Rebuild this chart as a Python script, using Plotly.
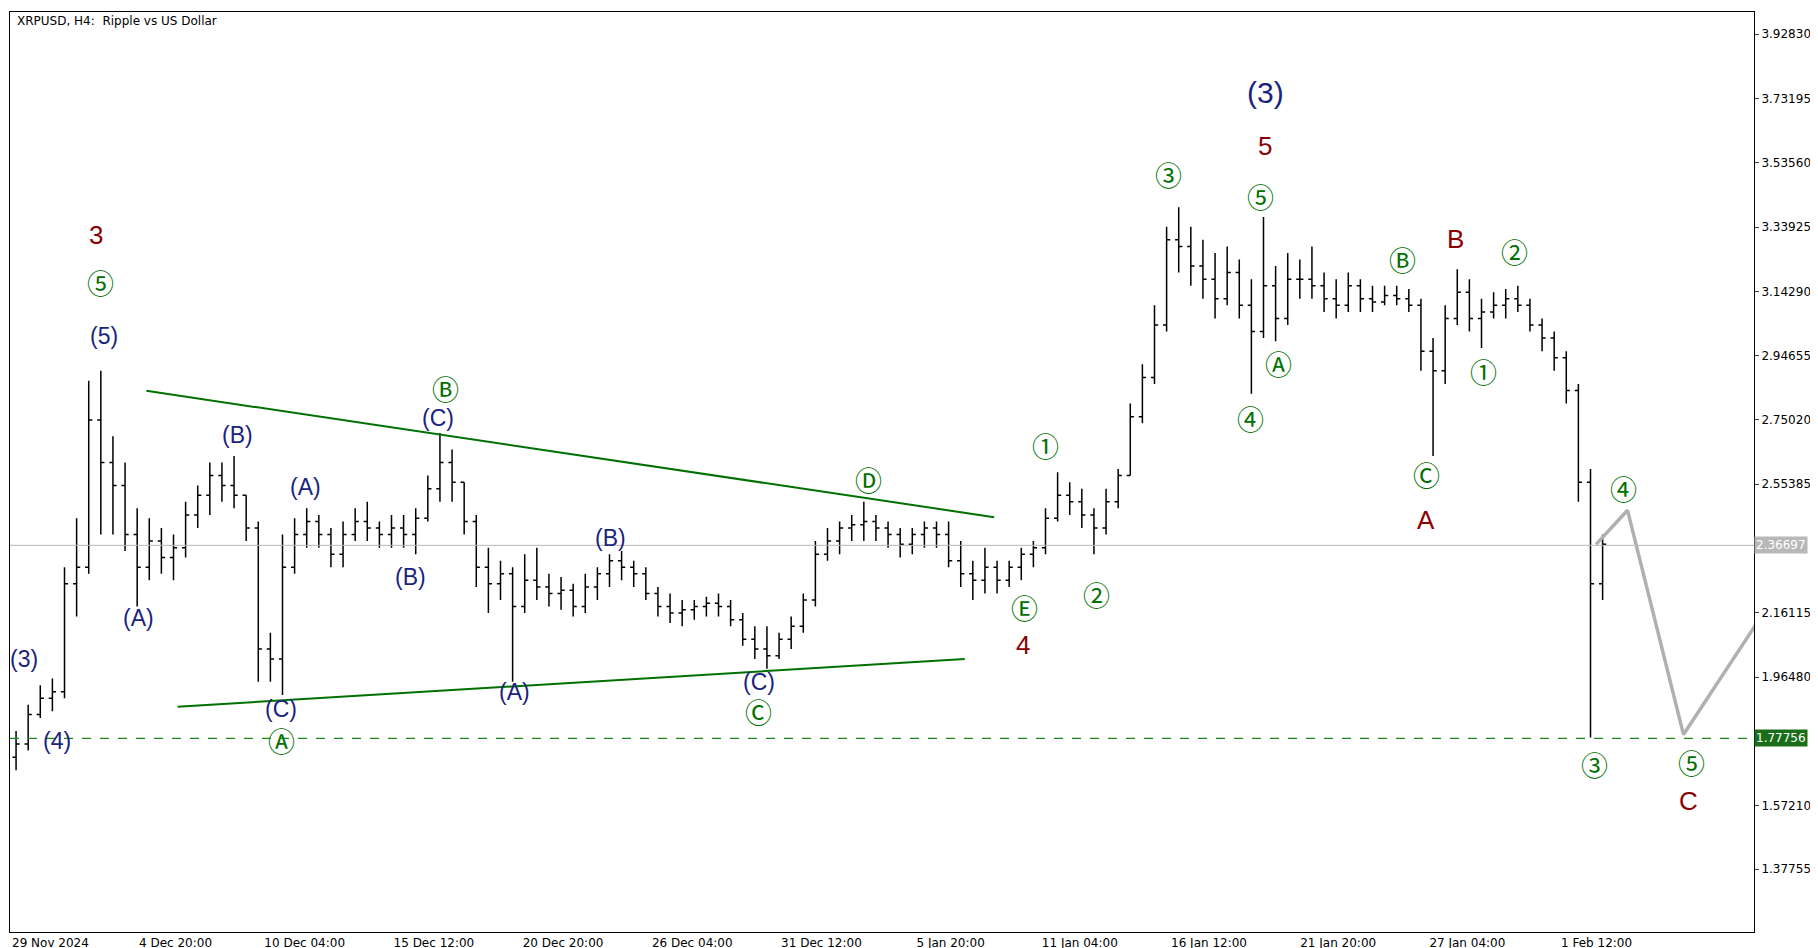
import pandas as pd
import plotly.graph_objects as go

START = pd.Timestamp("2024-11-29 12:00")

# 12-hour bars
close = [1.76,1.85,1.90,1.92,2.25,2.30,2.75,2.62,2.55,2.40,2.30,2.38,2.33,2.36,2.46,2.52,2.58,2.55,2.52,2.42,
         2.05,2.02,2.30,2.40,2.44,2.40,2.34,2.40,2.44,2.42,2.40,2.42,2.40,2.45,2.54,2.62,2.56,2.44,2.30,2.25,
         2.28,2.18,2.26,2.24,2.22,2.23,2.18,2.24,2.28,2.32,2.30,2.28,2.22,2.18,2.16,2.17,2.18,2.19,2.18,2.14,
         2.08,2.05,2.03,2.08,2.12,2.20,2.34,2.38,2.42,2.43,2.44,2.42,2.40,2.37,2.40,2.42,2.40,2.32,2.28,2.26,
         2.30,2.26,2.30,2.34,2.36,2.45,2.52,2.50,2.46,2.42,2.50,2.58,2.76,2.88,3.04,3.30,3.28,3.22,3.18,3.12,
         3.20,3.10,3.02,3.16,3.06,3.18,3.18,3.16,3.12,3.10,3.16,3.12,3.11,3.13,3.12,3.10,2.96,2.90,3.06,3.14,
         3.06,3.08,3.10,3.12,3.10,3.04,3.00,2.94,2.84,2.56,2.25,2.37]
high = [1.80,1.88,1.94,1.96,2.30,2.45,2.87,2.90,2.70,2.62,2.48,2.45,2.42,2.40,2.50,2.55,2.62,2.62,2.64,2.52,
        2.44,2.10,2.40,2.45,2.48,2.46,2.42,2.44,2.48,2.50,2.44,2.46,2.46,2.48,2.58,2.71,2.66,2.56,2.46,2.36,
        2.32,2.30,2.34,2.36,2.28,2.27,2.25,2.28,2.30,2.34,2.35,2.32,2.30,2.24,2.22,2.20,2.20,2.21,2.22,2.20,
        2.16,2.12,2.12,2.10,2.15,2.22,2.38,2.42,2.44,2.46,2.50,2.46,2.44,2.42,2.42,2.44,2.44,2.44,2.38,2.32,
        2.36,2.32,2.32,2.36,2.38,2.48,2.59,2.56,2.54,2.48,2.54,2.60,2.80,2.92,3.10,3.34,3.40,3.34,3.30,3.26,
        3.28,3.24,3.18,3.37,3.22,3.26,3.24,3.28,3.20,3.18,3.20,3.18,3.16,3.16,3.16,3.15,3.12,3.00,3.10,3.21,
        3.18,3.12,3.14,3.15,3.16,3.12,3.06,3.02,2.96,2.86,2.60,2.40]
low = [1.68,1.74,1.84,1.86,1.90,2.15,2.28,2.40,2.40,2.35,2.18,2.26,2.28,2.26,2.33,2.42,2.46,2.50,2.48,2.38,
       1.95,1.95,1.91,2.28,2.36,2.36,2.30,2.30,2.38,2.38,2.36,2.36,2.36,2.34,2.44,2.50,2.50,2.40,2.24,2.16,
       2.20,1.95,2.16,2.20,2.18,2.17,2.15,2.16,2.20,2.24,2.26,2.24,2.20,2.15,2.13,2.12,2.14,2.15,2.15,2.12,
       2.06,2.02,1.99,2.02,2.05,2.10,2.18,2.32,2.34,2.38,2.38,2.38,2.36,2.33,2.34,2.36,2.36,2.30,2.24,2.20,
       2.22,2.22,2.24,2.26,2.30,2.34,2.44,2.46,2.42,2.34,2.40,2.48,2.58,2.74,2.86,3.02,3.20,3.16,3.12,3.06,
       3.10,3.06,2.83,3.00,2.99,3.04,3.12,3.12,3.08,3.06,3.08,3.08,3.08,3.10,3.10,3.08,2.90,2.64,2.86,3.04,
       3.02,2.97,3.06,3.06,3.08,3.02,2.96,2.90,2.80,2.50,1.78,2.20]
first_open = 1.72
opens = [first_open] + close[:-1]
times = [START + pd.Timedelta(hours=12 * i + 6) for i in range(len(close))]

# Wave labels: (days from start, price, text, kind)
lab_day = [3.56,3.75,3.89,0.58,1.92,5.29,9.38,12.21,16.54,17.98,17.69,11.2,11.2,20.82,24.81,30.91,30.91,35.43,
           41.88,41.83,42.74,44.86,47.84,51.83,51.83,51.63,51.2,52.36,57.5,58.46,58.46,59.66,62.12,60.82,66.63,65.43,69.42,69.28]
lab_price = [3.314,3.169,3.006,2.020,1.768,2.144,2.704,2.544,2.271,2.846,2.757,1.866,1.770,1.920,2.388,1.949,1.860,2.569,
             2.176,2.062,2.672,2.218,3.499,3.751,3.587,3.431,2.754,2.921,3.240,2.584,2.445,3.304,3.265,2.899,2.541,1.697,1.704,1.587]
lab_text = ["3","⑤","(5)","(3)","(4)","(A)","(B)","(A)","(B)","Ⓑ","(C)","(C)","Ⓐ","(A)","(B)","(C)","Ⓒ","Ⓓ",
            "Ⓔ","4","①","②","③","(3)","5","⑤","④","Ⓐ","Ⓑ","Ⓒ","A","B","②","①","④","③","⑤","C"]
lab_kind = ["r","g","n","n","n","n","n","n","n","g","n","n","g","n","n","n","g","g",
            "g","r","g","g","g","N","r","g","g","g","g","g","r","r","g","g","g","g","g","r"]

# Triangle lines and projection
tri_up_day = [5.63, 40.63]; tri_up_price = [2.839, 2.453]
tri_lo_day = [6.92, 39.42]; tri_lo_price = [1.874, 2.020]
proj_day = [65.48, 66.78, 69.09, 72.3]; proj_price = [2.37, 2.474, 1.789, 2.15]

current_price = 2.36697
support_price = 1.77756
ytick_vals = [3.92830,3.73195,3.53560,3.33925,3.14290,2.94655,2.75020,2.55385,2.16115,1.96480,1.57210,1.37755]
first_xlabel = "29 Nov 2024"
xtick_labels = ["4 Dec 20:00","10 Dec 04:00","15 Dec 12:00","20 Dec 20:00","26 Dec 04:00",
                "31 Dec 12:00","5 Jan 20:00","11 Jan 04:00","16 Jan 12:00","21 Jan 20:00","27 Jan 04:00","1 Feb 12:00"]
xtick_times = [pd.Timestamp("2024-12-04 20:00") + pd.Timedelta(hours=128 * k) for k in range(12)]

def d2t(d):
    return START + pd.Timedelta(hours=d * 24)

fig = go.Figure()
fig.add_trace(go.Ohlc(x=times, open=opens, high=high, low=low, close=close,
                      increasing=dict(line=dict(color="black", width=1.5)),
                      decreasing=dict(line=dict(color="black", width=1.5)),
                      tickwidth=0.3, hoverinfo="skip", showlegend=False))
for dd, pp in [(tri_up_day, tri_up_price), (tri_lo_day, tri_lo_price)]:
    fig.add_trace(go.Scatter(x=[d2t(d) for d in dd], y=pp, mode="lines",
                             line=dict(color="#007000", width=2), showlegend=False))
fig.add_trace(go.Scatter(x=[d2t(d) for d in proj_day], y=proj_price, mode="lines",
                         line=dict(color="#b0b0b0", width=3.5), showlegend=False))
fig.add_hline(y=current_price, line=dict(color="#b8b8b8", width=1))
fig.add_hline(y=support_price, line=dict(color="#1a8a1a", width=1.2, dash="dash"))

colors = {"r": "#8b0000", "g": "#007000", "n": "#1a237e", "N": "#1a237e"}
sizes = {"r": 26, "g": 27, "n": 23, "N": 30}
fams = {"r": "Liberation Sans", "g": "Noto Sans CJK JP", "n": "Liberation Sans", "N": "Liberation Sans"}
for d, p, t, k in zip(lab_day, lab_price, lab_text, lab_kind):
    fig.add_annotation(x=d2t(d), y=p, text=t, showarrow=False,
                       font=dict(color=colors[k], size=sizes[k], family=fams[k]))

for val, bg in [(current_price, "#b8b8b8"), (support_price, "#1a6e1a")]:
    fig.add_annotation(xref="paper", x=1.0, y=val, text=f"{val:.5f}", showarrow=False, xanchor="left",
                       bgcolor=bg, font=dict(color="white", size=12, family="DejaVu Sans"), borderpad=1)

fig.add_annotation(xref="paper", yref="paper", x=0.003, y=1.0, xanchor="left", yanchor="top",
                   text="XRPUSD, H4:  Ripple vs US Dollar", showarrow=False,
                   font=dict(size=12, color="black", family="DejaVu Sans"))
fig.add_annotation(xref="paper", yref="paper", x=0.0, y=0.0, xanchor="left", yanchor="top", yshift=-2,
                   text=first_xlabel, showarrow=False,
                   font=dict(size=12, color="black", family="DejaVu Sans"))

fig.update_layout(
    width=1818, height=948, paper_bgcolor="white", plot_bgcolor="white",
    margin=dict(l=2, r=72, t=4, b=24, autoexpand=False),
    xaxis=dict(range=[START, d2t(72)], rangeslider=dict(visible=False), showgrid=False,
               tickvals=[t + pd.Timedelta(hours=36) for t in xtick_times], ticktext=xtick_labels,
               tickfont=dict(size=12, family="DejaVu Sans", color="black"),
               showline=True, mirror=True, linecolor="black", ticks=""),
    yaxis=dict(range=[1.186, 3.996], side="right", showgrid=False, tickvals=ytick_vals,
               ticktext=[f"{v:.5f}" for v in ytick_vals], ticks="outside", ticklen=4,
               tickfont=dict(size=12, family="DejaVu Sans", color="black"),
               showline=True, mirror=True, linecolor="black"),
)
fig.write_html("out.html")
